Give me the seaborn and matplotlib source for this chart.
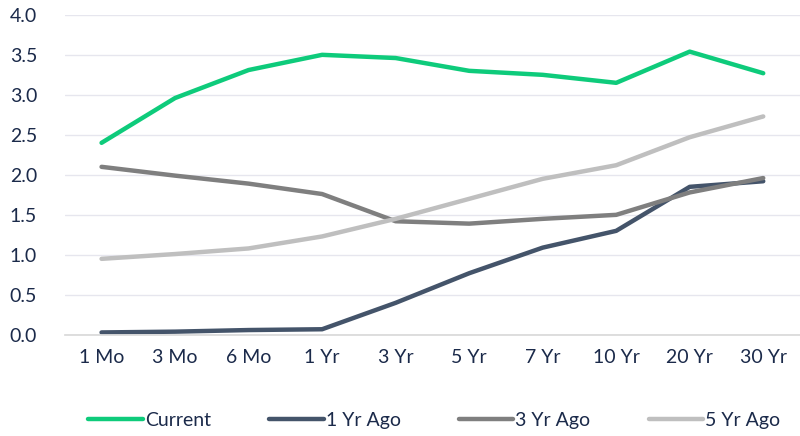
import numpy as np
import pandas as pd
import seaborn as sns
import matplotlib.pyplot as plt

tenors = ["1 Mo", "3 Mo", "6 Mo", "1 Yr", "3 Yr", "5 Yr", "7 Yr", "10 Yr", "20 Yr", "30 Yr"]
current = [2.40, 2.96, 3.31, 3.50, 3.46, 3.30, 3.25, 3.15, 3.54, 3.27]
yr1_ago = [0.03, 0.04, 0.06, 0.07, 0.40, 0.77, 1.09, 1.30, 1.85, 1.92]
yr3_ago = [2.10, 1.99, 1.89, 1.76, 1.42, 1.39, 1.45, 1.50, 1.78, 1.96]
yr5_ago = [0.95, 1.01, 1.08, 1.23, 1.45, 1.70, 1.95, 2.12, 2.47, 2.73]

series = ["Current", "1 Yr Ago", "3 Yr Ago", "5 Yr Ago"]
colors = ["#0ECB7B", "#44546A", "#7F7F7F", "#BFBFBF"]
text_col = "#1B2A4A"

df = pd.DataFrame({"tenor": tenors, "Current": current, "1 Yr Ago": yr1_ago,
                   "3 Yr Ago": yr3_ago, "5 Yr Ago": yr5_ago})
long_df = df.melt(id_vars="tenor", var_name="series", value_name="yield")
long_df["pos"] = long_df["tenor"].map({t: i for i, t in enumerate(tenors)})

sns.set_theme(style="white")
plt.rcParams["font.family"] = ["Lato", "DejaVu Sans"]

fig = plt.figure(figsize=(8, 4.36), dpi=100)
ax = fig.add_axes([0.081, 0.232, 0.919, 0.734])

sns.lineplot(data=long_df, x="pos", y="yield", hue="series", hue_order=series,
             palette=colors, linewidth=3.2, ax=ax, legend=False,
             solid_capstyle="round")

ax.set_xlim(-0.5, 9.5)
ax.set_ylim(0, 4.0)
ax.set_yticks(np.arange(0, 4.01, 0.5))
ax.set_yticklabels([f"{v:.1f}" for v in np.arange(0, 4.01, 0.5)])
ax.set_xticks(range(len(tenors)))
ax.set_xticklabels(tenors)
ax.set_xticks(np.arange(-0.5, 9.6, 1), minor=True)
ax.tick_params(axis="x", which="major", length=0, pad=10, labelsize=14, colors=text_col)
ax.tick_params(axis="x", which="minor", length=5, color="#D9D9D9", width=1)
ax.tick_params(axis="y", length=0, pad=20, labelsize=14, colors=text_col)
ax.grid(axis="y", color="#E6E6EE", linewidth=1)
ax.set_axisbelow(True)
for s in ["top", "right", "left"]:
    ax.spines[s].set_visible(False)
ax.spines["bottom"].set_color("#D9D9D9")
ax.set_xlabel("")
ax.set_ylabel("")

handles = [plt.Line2D([0], [0], color=c, linewidth=3.2, solid_capstyle="round") for c in colors]
fig.legend(handles, series, loc="center", bbox_to_anchor=(0.543, 0.035), ncol=4,
           frameon=False, fontsize=14, handlelength=2.8, handletextpad=0.1,
           columnspacing=3.0, labelcolor=text_col)

fig.savefig("out.png", dpi=100)
